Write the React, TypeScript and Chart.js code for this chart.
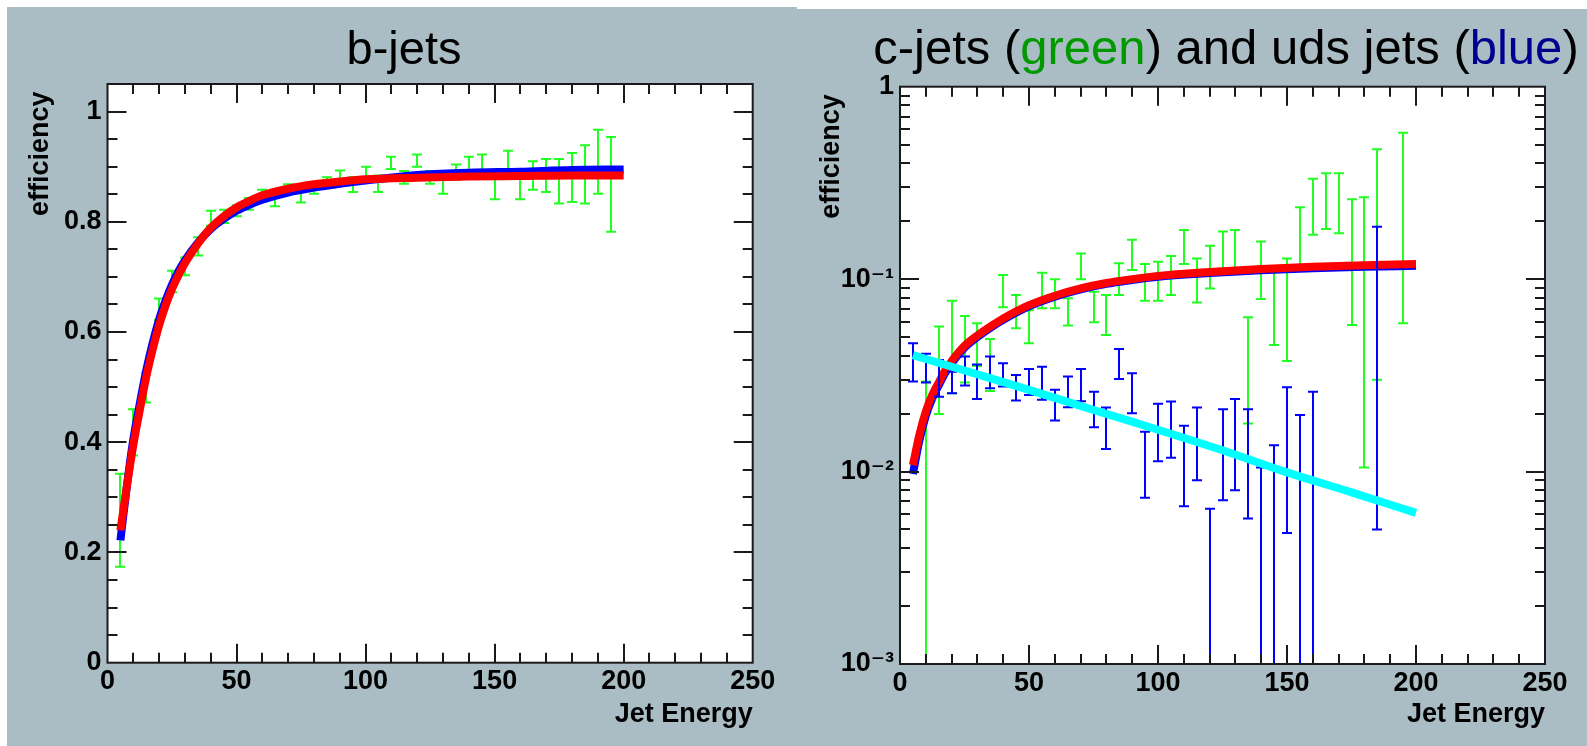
import React, { useEffect, useRef } from 'react';
import { Chart, registerables } from 'chart.js';

Chart.register(...registerables);

const GRAY = '#abbdc4';
const FONT = "'Liberation Sans', Arial, Helvetica, 'DejaVu Sans', sans-serif";

// ---------- axis ticks ----------
const xTickValues = [0, 50, 100, 150, 200, 250];
const xTickLabels = ['0', '50', '100', '150', '200', '250'];
const bYTickValues = [0, 0.2, 0.4, 0.6, 0.8, 1];
const bYTickLabels = ['0', '0.2', '0.4', '0.6', '0.8', '1'];
const cYTickValues = [0.001, 0.01, 0.1, 1];
const cYTickLabels = ['10\u207B\u00B3', '10\u207B\u00B2', '10\u207B\u00B9', '1'];

// ---------- b-jets panel ----------
const bFitX = [5, 7.5, 10, 12.5, 15, 17.5, 20, 22.5, 25, 27.5, 30, 35, 40, 45, 50, 55, 60, 70, 80, 90, 100, 120, 140, 160, 180, 200];
const bFitRed = [0.24, 0.32, 0.395, 0.458, 0.518, 0.568, 0.612, 0.648, 0.678, 0.703, 0.725, 0.76, 0.789, 0.81, 0.826, 0.838, 0.848, 0.86, 0.868, 0.873, 0.877, 0.88, 0.882, 0.883, 0.884, 0.884];
const bFitBlue = [0.222, 0.32, 0.405, 0.47, 0.53, 0.58, 0.623, 0.657, 0.686, 0.71, 0.73, 0.762, 0.787, 0.805, 0.82, 0.831, 0.84, 0.853, 0.862, 0.869, 0.875, 0.885, 0.889, 0.891, 0.894, 0.895];

const bEffX = [5, 10, 15, 20, 25, 30, 35, 40, 45, 50, 55, 60, 65, 70, 75, 80, 85, 90, 95, 100, 105, 110, 115, 120, 125, 130, 135, 140, 145, 150, 155, 160, 165, 170, 175, 180, 185, 190, 195];
const bEffLo = [0.174, 0.376, 0.472, 0.622, 0.672, 0.703, 0.739, 0.793, 0.798, 0.81, 0.822, 0.837, 0.828, 0.851, 0.835, 0.851, 0.862, 0.876, 0.854, 0.872, 0.854, 0.896, 0.869, 0.9, 0.869, 0.851, 0.876, 0.882, 0.886, 0.841, 0.878, 0.841, 0.858, 0.854, 0.833, 0.836, 0.833, 0.851, 0.782];
const bEffHi = [0.343, 0.46, 0.526, 0.661, 0.711, 0.735, 0.772, 0.82, 0.822, 0.83, 0.843, 0.858, 0.847, 0.868, 0.855, 0.864, 0.881, 0.893, 0.881, 0.9, 0.884, 0.918, 0.892, 0.922, 0.892, 0.886, 0.904, 0.918, 0.922, 0.888, 0.929, 0.888, 0.91, 0.914, 0.914, 0.925, 0.939, 0.967, 0.954];

// ---------- c-jets / uds panel ----------
const cFitX = [5, 7.5, 10, 12.5, 15, 17.5, 20, 25, 30, 35, 40, 50, 60, 70, 80, 90, 100, 120, 140, 160, 180, 200];
const cFitRed = [0.0108, 0.0155, 0.0205, 0.025, 0.029, 0.0335, 0.0375, 0.045, 0.051, 0.0567, 0.0625, 0.0732, 0.082, 0.0895, 0.0955, 0.1, 0.104, 0.109, 0.113, 0.116, 0.118, 0.12];
const cFitBlue = [0.0097, 0.0145, 0.0195, 0.024, 0.028, 0.0325, 0.0365, 0.044, 0.05, 0.0558, 0.0615, 0.0722, 0.081, 0.0885, 0.0945, 0.099, 0.103, 0.1075, 0.1112, 0.1138, 0.1158, 0.1172];

const udsFitX = [5, 25, 50, 75, 100, 125, 150, 175, 200];
const udsFit = [0.0403, 0.0335, 0.0266, 0.0209, 0.0165, 0.0129, 0.0099, 0.0078, 0.0061];

const cEffX = [10, 15, 20, 25, 30, 35, 40, 45, 50, 55, 60, 65, 70, 75, 80, 85, 90, 95, 100, 105, 110, 115, 120, 125, 130, 135, 140, 145, 150, 155, 160, 165, 170, 175, 180, 185, 195];
const cEffLo = [0, 0.0199, 0.0255, 0.029, 0.0354, 0.0262, 0.0714, 0.0556, 0.0465, 0.0706, 0.0706, 0.0574, 0.1, 0.0597, 0.0513, 0.0828, 0.1116, 0.0773, 0.0773, 0.0828, 0.12, 0.0755, 0.0893, 0.105, 0.108, 0.0178, 0.0789, 0.0455, 0.0376, 0.111, 0.17, 0.182, 0.173, 0.0578, 0.0105, 0.03, 0.059];
const cEffHi = [0.0294, 0.0567, 0.0773, 0.0644, 0.059, 0.0488, 0.105, 0.0828, 0.069, 0.108, 0.1, 0.0796, 0.136, 0.0861, 0.0828, 0.121, 0.16, 0.12, 0.123, 0.132, 0.18, 0.128, 0.149, 0.177, 0.18, 0.0634, 0.157, 0.115, 0.128, 0.236, 0.332, 0.355, 0.355, 0.26, 0.266, 0.473, 0.577];

const udsEffX = [5, 10, 15, 20, 25, 30, 35, 40, 45, 50, 55, 60, 65, 70, 75, 80, 85, 90, 95, 100, 105, 110, 115, 120, 125, 130, 135, 140, 145, 150, 155, 160, 185];
const udsEffLo = [0.0294, 0.029, 0.0245, 0.0255, 0.028, 0.0238, 0.0271, 0.0277, 0.0234, 0.025, 0.0236, 0.0184, 0.0216, 0.0232, 0.017, 0.0131, 0.0303, 0.0201, 0.0073, 0.0113, 0.0118, 0.0066, 0.009, 0, 0.0071, 0.008, 0.0057, 0, 0, 0.0048, 0, 0, 0.005];
const udsEffHi = [0.0465, 0.041, 0.038, 0.033, 0.0396, 0.036, 0.0396, 0.0366, 0.0318, 0.0341, 0.0351, 0.0266, 0.0312, 0.0341, 0.026, 0.0215, 0.0434, 0.0324, 0.0161, 0.0225, 0.0231, 0.0173, 0.0215, 0.0064, 0.0211, 0.0238, 0.0211, 0.0105, 0.0137, 0.0274, 0.0197, 0.026, 0.187];

// ---------- plugins ----------
const whiteAreaPlugin = {
  id: 'whiteArea',
  beforeDraw(chart: any) {
    const { ctx, chartArea: a } = chart;
    ctx.save();
    ctx.fillStyle = '#ffffff';
    ctx.fillRect(a.left, a.top, a.width, a.height);
    ctx.restore();
  },
};

const errorBarsPlugin = {
  id: 'errorBars',
  afterDatasetDraw(chart: any, args: any) {
    const ds = chart.data.datasets[args.index];
    if (!ds.errLo) return;
    const { ctx, chartArea: a } = chart;
    const xs = chart.scales.x;
    const ys = chart.scales.y;
    ctx.save();
    ctx.beginPath();
    ctx.rect(a.left, a.top - 2, a.width, a.height + 4);
    ctx.clip();
    ctx.strokeStyle = ds.errColor;
    ctx.lineWidth = 2;
    const cap = 5;
    ds.data.forEach((p: any, i: number) => {
      const px = Math.round(xs.getPixelForValue(p.x));
      const lo = ds.errLo[i] <= ys.min ? a.bottom : ys.getPixelForValue(ds.errLo[i]);
      const hi = ys.getPixelForValue(ds.errHi[i]);
      ctx.beginPath();
      ctx.moveTo(px, lo);
      ctx.lineTo(px, hi);
      ctx.moveTo(px - cap, lo);
      ctx.lineTo(px + cap, lo);
      ctx.moveTo(px - cap, hi);
      ctx.lineTo(px + cap, hi);
      ctx.stroke();
    });
    ctx.restore();
  },
};

const isMajor = (list: number[], v: number) => list.some((m) => Math.abs(m - v) <= 1e-9 + 1e-6 * Math.abs(m));

const rootFramePlugin = {
  id: 'rootFrame',
  afterDatasetsDraw(chart: any, _args: any, opts: any) {
    const { ctx, chartArea: a } = chart;
    const xs = chart.scales.x;
    const ys = chart.scales.y;
    ctx.save();
    ctx.strokeStyle = '#1a1a1a';
    ctx.lineWidth = 2;
    ctx.beginPath();
    for (const v of opts.xAll) {
      const len = isMajor(opts.xMajor, v) ? 19 : 10;
      const px = Math.round(xs.getPixelForValue(v));
      if (px <= a.left + 1 || px >= a.right - 1) continue;
      ctx.moveTo(px, a.bottom);
      ctx.lineTo(px, a.bottom - len);
      ctx.moveTo(px, a.top);
      ctx.lineTo(px, a.top + len);
    }
    for (const v of opts.yAll) {
      const len = isMajor(opts.yMajor, v) ? 19 : 10;
      const py = Math.round(ys.getPixelForValue(v));
      if (py <= a.top + 1 || py >= a.bottom - 1) continue;
      ctx.moveTo(a.left, py);
      ctx.lineTo(a.left + len, py);
      ctx.moveTo(a.right, py);
      ctx.lineTo(a.right - len, py);
    }
    ctx.stroke();
    ctx.strokeRect(a.left, a.top, a.width, a.height);
    ctx.restore();
  },
};

// ---------- helpers ----------
function curve(xs: number[], ys: number[], color: string, order: number) {
  return {
    type: 'line',
    data: xs.map((x, i) => ({ x, y: ys[i] })),
    borderColor: color,
    backgroundColor: color,
    borderWidth: 8,
    pointRadius: 0,
    fill: false,
    cubicInterpolationMode: 'monotone',
    order,
  };
}

function errBars(xs: number[], lo: number[], hi: number[], color: string, order: number) {
  return {
    type: 'line',
    data: xs.map((x, i) => ({ x, y: hi[i] })),
    showLine: false,
    pointRadius: 0,
    borderColor: color,
    errLo: lo,
    errHi: hi,
    errColor: color,
    order,
  };
}

const tickFont = { family: FONT, size: 27, weight: 'bold' as const };
const titleFont = { family: FONT, size: 27, weight: 'bold' as const };

const xMinorAll: number[] = [];
for (let v = 0; v <= 250; v += 10) xMinorAll.push(v);
const bYAll: number[] = [];
for (let k = 0; k <= 21; k++) bYAll.push(+(k * 0.05).toFixed(2));
const cYAll: number[] = [];
for (const d of [0.001, 0.01, 0.1]) for (let k = 1; k <= 9; k++) cYAll.push(+(d * k).toPrecision(3));

function xScale(height: number) {
  return {
    type: 'linear',
    min: 0,
    max: 250,
    afterFit: (s: any) => { s.height = height; },
    afterBuildTicks: (s: any) => { s.ticks = xTickValues.map((v) => ({ value: v })); },
    grid: { display: false },
    border: { display: false },
    ticks: { font: tickFont, color: '#000', padding: -5, maxRotation: 0, autoSkip: false, callback: (_v: any, i: number) => xTickLabels[i] },
    title: { display: true, text: 'Jet Energy', align: 'end', color: '#000', font: titleFont, padding: { top: 0, bottom: 15 } },
  };
}

function bConfig(): any {
  return {
    type: 'line',
    data: {
      datasets: [
        errBars(bEffX, bEffLo, bEffHi, '#22ff22', 3),
        curve(bFitX, bFitBlue, '#0000ff', 2),
        curve(bFitX, bFitRed, '#ff0000', 1),
      ],
    },
    plugins: [whiteAreaPlugin, errorBarsPlugin, rootFramePlugin],
    options: {
      animation: false,
      responsive: false,
      events: [],
      layout: { padding: { top: 77, right: 44.3, left: 0, bottom: 0 } },
      plugins: {
        legend: { display: false },
        tooltip: { enabled: false },
        title: { display: false },
        rootFrame: { xMajor: xTickValues, xAll: xMinorAll, yMajor: bYTickValues, yAll: bYAll },
      },
      scales: {
        x: xScale(83.3),
        y: {
          type: 'linear',
          min: 0,
          max: 1.05,
          afterFit: (s: any) => { s.width = 100.5; },
          afterBuildTicks: (s: any) => { s.ticks = bYTickValues.map((v) => ({ value: v })); },
          grid: { display: false },
          border: { display: false },
          ticks: { font: tickFont, color: '#000', padding: -2, autoSkip: false, callback: (_v: any, i: number) => bYTickLabels[i] },
          title: { display: true, text: 'efficiency ', align: 'end', color: '#000', font: titleFont, padding: { top: 17, bottom: 0 } },
        },
      },
    },
  };
}

function cConfig(): any {
  return {
    type: 'line',
    data: {
      datasets: [
        errBars(cEffX, cEffLo, cEffHi, '#22ff22', 5),
        curve(cFitX, cFitBlue, '#0000ff', 4),
        curve(cFitX, cFitRed, '#ff0000', 3),
        errBars(udsEffX, udsEffLo, udsEffHi, '#0000ff', 2),
        curve(udsFitX, udsFit, '#00ffff', 1),
      ],
    },
    plugins: [whiteAreaPlugin, errorBarsPlugin, rootFramePlugin],
    options: {
      animation: false,
      responsive: false,
      events: [],
      layout: { padding: { top: 77.7, right: 42, left: 0, bottom: 0 } },
      plugins: {
        legend: { display: false },
        tooltip: { enabled: false },
        title: { display: false },
        rootFrame: { xMajor: xTickValues, xAll: xMinorAll, yMajor: cYTickValues, yAll: cYAll },
      },
      scales: {
        x: xScale(82),
        y: {
          type: 'logarithmic',
          min: 0.001,
          max: 1,
          afterFit: (s: any) => { s.width = 103; },
          afterBuildTicks: (s: any) => { s.ticks = cYTickValues.map((v) => ({ value: v })); },
          grid: { display: false },
          border: { display: false },
          ticks: { font: tickFont, color: '#000', padding: -2, autoSkip: false, callback: (_v: any, i: number) => cYTickLabels[i] },
          title: { display: true, text: 'efficiency ', align: 'end', color: '#000', font: titleFont, padding: { top: 18, bottom: 0 } },
        },
      },
    },
  };
}

function PlotCanvas({ make, width, height }: { make: () => any; width: number; height: number }) {
  const ref = useRef<HTMLCanvasElement>(null);
  useEffect(() => {
    const chart = new Chart(ref.current as HTMLCanvasElement, make());
    return () => chart.destroy();
  }, []);
  return <canvas ref={ref} width={width} height={height} style={{ display: 'block', width, height }} />;
}

const titleStyle: React.CSSProperties = {
  position: 'absolute',
  top: 24,
  fontFamily: FONT,
  fontSize: 47,
  lineHeight: '47px',
  color: '#000',
  whiteSpace: 'nowrap',
  transform: 'translateX(-50%)',
};

export default function App() {
  return (
    <div style={{ position: 'fixed', left: 0, top: 0, width: 1587, height: 746, background: '#fff', overflow: 'hidden' }}>
      <div style={{ position: 'absolute', left: 7, top: 7, width: 790, height: 739, background: GRAY }}>
        <PlotCanvas make={bConfig} width={790} height={739} />
      </div>
      <div style={{ position: 'absolute', left: 797, top: 9, width: 790, height: 737, background: GRAY }}>
        <PlotCanvas make={cConfig} width={790} height={737} />
      </div>
      <div style={{ ...titleStyle, left: 404 }}>b-jets</div>
      <div style={{ ...titleStyle, left: 1226, fontSize: 49 }}>
        c-jets (<span style={{ color: '#009a00' }}>green</span>) and uds jets (<span style={{ color: '#000090' }}>blue</span>)
      </div>
    </div>
  );
}
